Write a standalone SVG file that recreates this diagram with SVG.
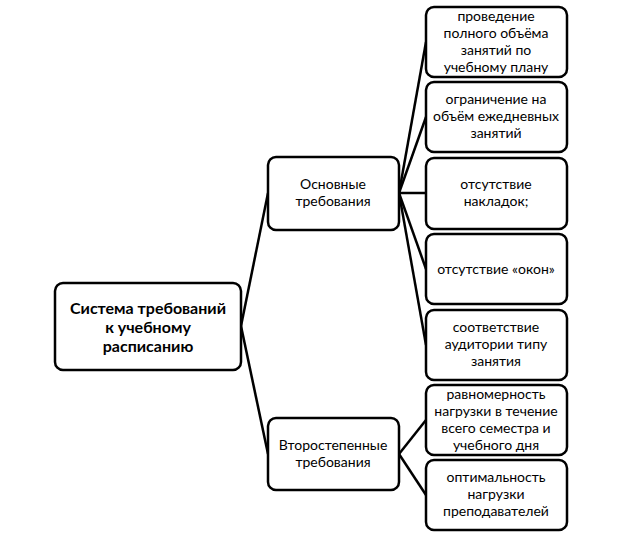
<svg xmlns="http://www.w3.org/2000/svg" width="624" height="533" viewBox="0 0 624 533">
<style>
rect{fill:#fff;stroke:#000;stroke-width:2.5}
text{font-family:Lato,"Liberation Sans",sans-serif;font-size:14px;fill:#000;text-anchor:middle}
.b{font-weight:bold;font-size:16px}
#c line{stroke:#000;stroke-width:2.5}
</style>
<rect x="0" y="0" width="624" height="533" style="fill:#fff;stroke:none"/>
<g id="c">
<line x1="241" y1="326" x2="268" y2="193"/>
<line x1="241" y1="326" x2="268" y2="454"/>
<line x1="399" y1="193" x2="426" y2="42"/>
<line x1="399" y1="193" x2="426" y2="117"/>
<line x1="399" y1="193" x2="426" y2="193"/>
<line x1="399" y1="193" x2="426" y2="269"/>
<line x1="399" y1="193" x2="426" y2="345"/>
<line x1="399" y1="454" x2="426" y2="420"/>
<line x1="399" y1="454" x2="426" y2="495"/>
</g>
<g id="root"><rect x="55" y="283" width="186" height="87" rx="8"/>
<text class="b" x="148" y="314">Система требований</text><text class="b" x="148" y="333">к учебному</text><text class="b" x="148" y="352">расписанию</text></g>
<g id="m1"><rect x="268" y="157" width="131" height="73" rx="8"/>
<text x="333" y="189">Основные</text><text x="333" y="206">требования</text></g>
<g id="m2"><rect x="268" y="418" width="131" height="72" rx="8"/>
<text x="333" y="450">Второстепенные</text><text x="333" y="467">требования</text></g>
<g id="r1"><rect x="426" y="7" width="141" height="70" rx="8"/>
<text x="496" y="21">проведение</text><text x="496" y="38">полного объёма</text><text x="496" y="55">занятий по</text><text x="496" y="72">учебному плану</text></g>
<g id="r2"><rect x="426" y="82" width="141" height="70" rx="8"/>
<text x="496" y="104">ограничение на</text><text x="496" y="121">объём ежедневных</text><text x="496" y="138">занятий</text></g>
<g id="r3"><rect x="426" y="158" width="141" height="71" rx="8"/>
<text x="496" y="189">отсутствие</text><text x="496" y="206">накладок;</text></g>
<g id="r4"><rect x="426" y="234" width="141" height="70" rx="8"/>
<text x="496" y="274">отсутствие «окон»</text></g>
<g id="r5"><rect x="426" y="310" width="141" height="70" rx="8"/>
<text x="496" y="332">соответствие</text><text x="496" y="349">аудитории типу</text><text x="496" y="366">занятия</text></g>
<g id="r6"><rect x="426" y="385" width="141" height="70" rx="8"/>
<text x="496" y="399">равномерность</text><text x="496" y="416">нагрузки в течение</text><text x="496" y="433">всего семестра и</text><text x="496" y="450">учебного дня</text></g>
<g id="r7"><rect x="426" y="460" width="141" height="70" rx="8"/>
<text x="496" y="482">оптимальность</text><text x="496" y="499">нагрузки</text><text x="496" y="516">преподавателей</text></g>
</svg>
